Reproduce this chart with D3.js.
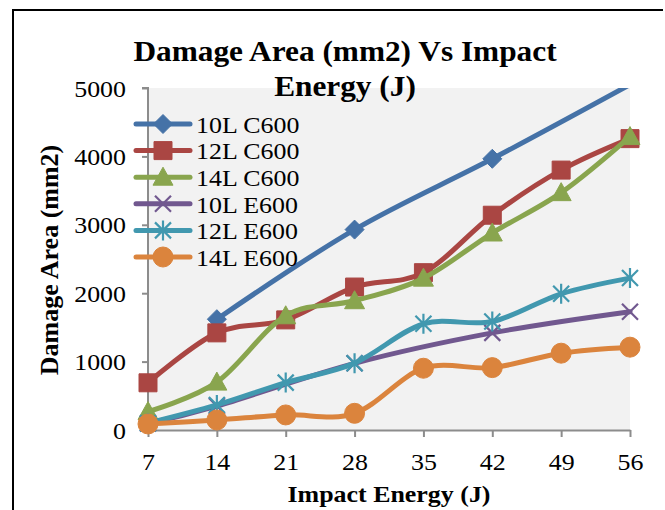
<!DOCTYPE html>
<html>
<head>
<meta charset="utf-8">
<script src="https://cdn.jsdelivr.net/npm/d3@7"></script>
<style>
  body { margin: 0; background: #fff; }
  svg { display: block; }
  text { font-family: "Liberation Serif", "Times New Roman", Times, serif; fill: #000; }
</style>
</head>
<body>
<svg id="chart" width="665" height="510"></svg>
<script>
// Impact energy (J) on the category axis
const energy = [7, 14, 21, 28, 35, 42, 49, 56];

// Damage area (mm2) per laminate; null = not measured
const c10 = [null, 1620, null, 2930, null, 3965, null, 5050];
const c12 = [690, 1420, 1610, 2090, 2300, 3140, 3800, 4260];
const c14 = [270, 700, 1670, 1890, 2220, 2880, 3470, 4290];
const e10 = [95, 350, null, 975, null, 1420, null, 1730];
const e12 = [100, 366, 693, 977, 1552, 1586, 1991, 2221];
const e14 = [88, 146, 220, 244, 903, 912, 1123, 1211];

const seriesNames = ["10L C600", "12L C600", "14L C600", "10L E600", "12L E600", "14L E600"];
const seriesValues = [c10, c12, c14, e10, e12, e14];
const seriesColors = ["#4572A7", "#AA4643", "#89A54E", "#71588F", "#4198AF", "#DB843D"];
const seriesMarkers = ["diamond", "square", "triangle", "cross", "asterisk", "circle"];

const yTicks = [0, 1000, 2000, 3000, 4000, 5000];
const titleLines = ["Damage Area (mm2) Vs Impact", "Energy (J)"];
const xTitle = "Impact Energy (J)";
const yTitle = "Damage Area (mm2)";

const SX = 1.08; // horizontal glyph stretch of the exported figure

const svg = d3.select("#chart");

const plot = { left: 148, right: 630, top: 88, bottom: 430 };

const x = d3.scalePoint().domain(energy).range([plot.left, plot.right]).padding(0);
const y = d3.scaleLinear().domain([0, 5000]).range([plot.bottom, plot.top]);

// frame lines of the figure box
svg.append("line").attr("x1", 13).attr("x2", 663).attr("y1", 10).attr("y2", 10)
  .attr("stroke", "#000").attr("stroke-width", 2);
svg.append("line").attr("x1", 13).attr("x2", 13).attr("y1", 9).attr("y2", 510)
  .attr("stroke", "#000").attr("stroke-width", 2);

// plot background
svg.append("rect")
  .attr("x", plot.left).attr("y", plot.top)
  .attr("width", plot.right - plot.left).attr("height", plot.bottom - plot.top)
  .attr("fill", "#f2f2f2");

// axes
const axisColor = "#8c8c8c";
const yAxis = svg.append("g").attr("transform", `translate(${plot.left},0)`)
  .call(d3.axisLeft(y).tickValues(yTicks).tickSize(6).tickFormat(d3.format("d")));
const xAxis = svg.append("g").attr("transform", `translate(0,${plot.bottom})`)
  .call(d3.axisBottom(x).tickSize(7).tickSizeOuter(0));

[yAxis, xAxis].forEach(g => {
  g.select(".domain").attr("stroke", axisColor).attr("stroke-width", 2);
  g.selectAll(".tick line").attr("stroke", axisColor).attr("stroke-width", 2);
  g.selectAll("text").attr("font-size", 24)
    .attr("font-family", "'Liberation Serif', 'Times New Roman', serif").attr("fill", "#000");
});
yAxis.select(".domain").attr("d", `M-6,${plot.top}H0V${plot.bottom}`);
yAxis.selectAll(".tick text")
  .attr("x", null).attr("dy", "0.34em")
  .attr("transform", "translate(-22,0) scale(" + SX + ",1)");
xAxis.selectAll(".tick text")
  .attr("y", null).attr("dy", null)
  .attr("transform", "translate(0,40) scale(" + SX + ",1)");

// marker shapes
function markerPath(kind) {
  const p = d3.path();
  if (kind === "diamond") {
    const r = 9.5;
    p.moveTo(0, -r); p.lineTo(r, 0); p.lineTo(0, r); p.lineTo(-r, 0); p.closePath();
  } else if (kind === "square") {
    const r = 9;
    p.rect(-r, -r, 2 * r, 2 * r);
  } else if (kind === "triangle") {
    p.moveTo(0, -10); p.lineTo(10, 8); p.lineTo(-10, 8); p.closePath();
  } else if (kind === "circle") {
    p.arc(0, 0, 10, 0, 2 * Math.PI);
  } else if (kind === "cross") {
    const r = 8;
    p.moveTo(-r, -r); p.lineTo(r, r); p.moveTo(r, -r); p.lineTo(-r, r);
  } else if (kind === "asterisk") {
    const r = 8;
    p.moveTo(-r, -r); p.lineTo(r, r); p.moveTo(r, -r); p.lineTo(-r, r);
    p.moveTo(0, -10); p.lineTo(0, 10);
  }
  return p.toString();
}
function drawMarker(sel, kind, color) {
  const open = kind === "cross" || kind === "asterisk";
  sel.append("path")
    .attr("d", markerPath(kind))
    .attr("fill", open ? "none" : color)
    .attr("stroke", color)
    .attr("stroke-width", open ? 2.2 : 1);
}

// clip for lines
svg.append("clipPath").attr("id", "plotClip")
  .append("rect").attr("x", 0).attr("y", plot.top).attr("width", 665).attr("height", 510 - plot.top);

const line = d3.line()
  .x(d => x(d.e))
  .y(d => y(d.v))
  .curve(d3.curveCardinal.tension(0));

const series = seriesNames.map((name, i) => ({
  name,
  color: seriesColors[i],
  marker: seriesMarkers[i],
  points: energy.map((e, j) => ({ e, v: seriesValues[i][j] })).filter(d => d.v != null)
}));

series.forEach(s => {
  const g = svg.append("g");
  g.append("path")
    .attr("clip-path", "url(#plotClip)")
    .attr("d", line(s.points))
    .attr("fill", "none")
    .attr("stroke", s.color)
    .attr("stroke-width", 5)
    .attr("stroke-linejoin", "round")
    .attr("stroke-linecap", "round");
  g.selectAll("g.pt")
    .data(s.points.filter(d => d.v <= y.domain()[1]))
    .join("g").attr("class", "pt")
    .attr("transform", d => `translate(${x(d.e)},${y(d.v)})`)
    .each(function () { drawMarker(d3.select(this), s.marker, s.color); });
});

// legend
const legend = svg.append("g");
const legendY0 = 124, legendStep = 26.6;
series.forEach((s, i) => {
  const ly = legendY0 + i * legendStep;
  const item = legend.append("g");
  item.append("line")
    .attr("x1", 136).attr("x2", 190).attr("y1", ly).attr("y2", ly)
    .attr("stroke", s.color).attr("stroke-width", 5).attr("stroke-linecap", "round");
  drawMarker(item.append("g").attr("transform", `translate(163,${ly})`), s.marker, s.color);
  item.append("text")
    .attr("transform", `translate(196,${ly + 8.7}) scale(${SX},1)`)
    .attr("font-size", 24)
    .text(s.name);
});

// chart title
titleLines.forEach((t, i) => {
  svg.append("text")
    .attr("transform", `translate(345,${61 + i * 35}) scale(${SX},1)`)
    .attr("text-anchor", "middle")
    .attr("font-size", 29)
    .attr("font-weight", "bold")
    .text(t);
});

// axis titles
svg.append("text")
  .attr("transform", `translate(389,502) scale(${SX},1)`)
  .attr("text-anchor", "middle")
  .attr("font-size", 24)
  .attr("font-weight", "bold")
  .text(xTitle);

svg.append("text")
  .attr("transform", "translate(58,260) rotate(-90)")
  .attr("text-anchor", "middle")
  .attr("font-size", 26)
  .attr("font-weight", "bold")
  .text(yTitle);
</script>
</body>
</html>
